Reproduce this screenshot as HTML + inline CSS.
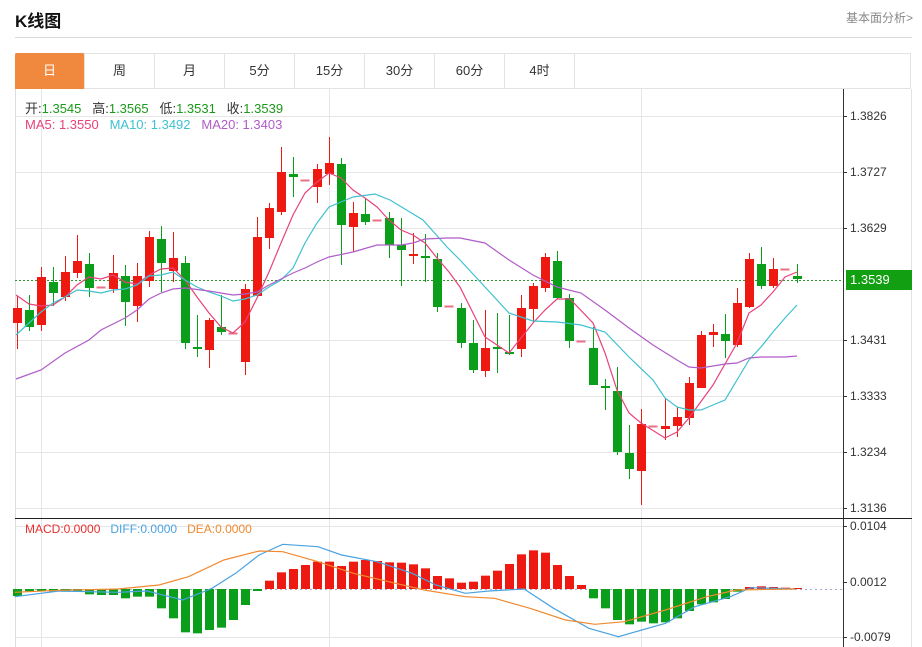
<!DOCTYPE html>
<html><head><meta charset="utf-8"><style>
body{margin:0;background:#fff;font-family:"Liberation Sans","Noto Sans CJK SC",sans-serif;}
#w{position:relative;width:922px;height:647px;overflow:hidden;}
.t{position:absolute;white-space:nowrap;}
.tab{position:absolute;top:53px;height:36px;width:70px;line-height:36px;text-align:center;font-size:13px;color:#333;border-right:1px solid #e3e3e3;box-sizing:border-box;}
</style></head><body><div id="w">
<div class="t" style="left:15px;top:7px;font-size:17px;font-weight:bold;color:#111;">K线图</div>
<div class="t" style="left:846px;top:9px;font-size:12px;color:#888;">基本面分析&gt;</div>
<div style="position:absolute;left:15px;top:37px;width:897px;height:1px;background:#d8d8d8"></div>
<div style="position:absolute;left:15px;top:53px;width:896px;height:36px;border:1px solid #e3e3e3;border-bottom:1px solid #e3e3e3;box-sizing:border-box"></div>
<div class="tab" style="left:15px;background:#f0883e;color:#fff;border-radius:2px 2px 0 0">日</div>
<div class="tab" style="left:85px">周</div><div class="tab" style="left:155px">月</div><div class="tab" style="left:225px">5分</div><div class="tab" style="left:295px">15分</div><div class="tab" style="left:365px">30分</div><div class="tab" style="left:435px">60分</div><div class="tab" style="left:505px">4时</div>
<svg id="s" width="922" height="647" style="position:absolute;left:0;top:0"></svg>
<div class="t" style="left:25px;top:98px;font-size:13px;color:#333">开:<span style="color:#1a9a1a">1.3545</span>&nbsp;&nbsp; 高:<span style="color:#1a9a1a">1.3565</span>&nbsp;&nbsp; 低:<span style="color:#1a9a1a">1.3531</span>&nbsp;&nbsp; 收:<span style="color:#1a9a1a">1.3539</span></div>
<div class="t" style="left:25px;top:117px;font-size:13px;"><span style="color:#e8427a">MA5: 1.3550</span>&nbsp;&nbsp; <span style="color:#3fc1d0">MA10: 1.3492</span>&nbsp;&nbsp; <span style="color:#b05cc8">MA20: 1.3403</span></div>
<div class="t" style="left:25px;top:522px;font-size:12px;"><span style="color:#e83030">MACD:0.0000</span>&nbsp;&nbsp; <span style="color:#4aa3e0">DIFF:0.0000</span>&nbsp;&nbsp; <span style="color:#f08a30">DEA:0.0000</span></div>
<div class="t" style="left:846px;top:270px;width:66px;height:20px;background:#12a012;color:#fff;font-size:13px;line-height:20px;padding-left:4px;box-sizing:border-box">1.3539</div>
</div>
<script>
var s='';
function L(x1,y1,x2,y2,c,w,d){s+='<line x1="'+x1+'" y1="'+y1+'" x2="'+x2+'" y2="'+y2+'" stroke="'+c+'" stroke-width="'+(w||1)+'"'+(d?' stroke-dasharray="'+d+'"':'')+'/>';}
// grid
[116,172,228,340,396,452,508].forEach(function(y){L(15,y+.5,843,y+.5,'#e6e6e6');});
[41,329,641].forEach(function(x){L(x+.5,89,x+.5,647,'#e6e6e6');});
L(15.5,89,15.5,647,'#ddd');L(911.5,89,911.5,647,'#e3e3e3');
L(15,637.5,843,637.5,'#e6e6e6');L(15,526.5,843,526.5,'#e6e6e6');
L(843.5,89,843.5,647,'#333');L(15,518.5,912,518.5,'#222');
var labs=[[116,'1.3826'],[172,'1.3727'],[228,'1.3629'],[340,'1.3431'],[396,'1.3333'],[452,'1.3234'],[508,'1.3136'],[526,'0.0104'],[582,'0.0012'],[637,'-0.0079']];
labs.forEach(function(a){L(843,a[0]+.5,847,a[0]+.5,'#333');s+='<text x="850" y="'+(a[0]+4)+'" font-size="12" fill="#333" font-family="Liberation Sans,sans-serif">'+a[1]+'</text>';});
L(15,280.5,843,280.5,'#2a9a2a',1,'2,2');
L(15,589.5,843,589.5,'#aac',1,'2,3');
var C=[[296,308,323,349,'r'],[295,310,327,331,'g'],[267,277,325,331,'r'],[267,282,293,306,'g'],[256,272,297,301,'r'],[235,261,273,278,'r'],[253,264,288,297,'g'],[287,287,288,287,'p'],[255,273,289,293,'r'],[265,276,302,326,'g'],[263,276,306,322,'r'],[231,237,281,287,'r'],[226,239,263,292,'g'],[232,258,271,282,'r'],[256,263,343,349,'g'],[315,347,349,357,'g'],[318,320,350,368,'r'],[295,327,332,335,'g'],[333,333,334,333,'p'],[284,289,362,375,'r'],[217,237,296,297,'r'],[203,208,238,249,'r'],[147,172,212,215,'r'],[157,174,177,197,'g'],[180,180,181,180,'p'],[164,169,187,203,'r'],[137,163,174,185,'r'],[158,164,225,265,'g'],[202,213,227,252,'r'],[199,214,222,225,'g'],[220,220,221,220,'p'],[212,218,245,258,'g'],[218,245,250,286,'g'],[233,254,256,264,'r'],[234,256,258,282,'g'],[253,259,307,312,'g'],[306,306,307,306,'p'],[303,308,343,348,'g'],[320,343,370,373,'g'],[310,348,371,377,'r'],[313,347,349,373,'g'],[315,352,354,355,'g'],[295,308,349,357,'r'],[283,286,309,322,'r'],[253,257,288,292,'r'],[251,261,298,299,'g'],[294,298,341,348,'g'],[341,341,342,341,'p'],[327,348,385,385,'g'],[379,386,388,410,'g'],[367,391,452,455,'g'],[425,453,469,479,'g'],[409,424,471,505,'r'],[426,426,427,426,'p'],[398,426,429,440,'r'],[407,417,426,437,'r'],[377,383,418,425,'r'],[331,335,388,388,'r'],[324,332,335,347,'r'],[314,334,341,358,'g'],[288,303,345,347,'r'],[253,259,307,308,'r'],[247,264,286,289,'g'],[258,269,286,288,'r'],[269,269,270,269,'p'],[264,276,279,283,'g']];
var RED='#ee1a12',GRN='#0a9e1a';
C.forEach(function(c,i){var x=17+12*i;var col=c[4]=='r'?RED:c[4]=='g'?GRN:'#e8708a';
 if(c[4]=='p'){L(x-4.5,c[1]+.5,x+4.5,c[1]+.5,col,2);return;}
 L(x+.5,c[0],x+.5,c[3],col,1);
 s+='<rect x="'+(x-4)+'" y="'+c[1]+'" width="9" height="'+Math.max(2,c[2]-c[1])+'" fill="'+col+'"/>';});
function P(pts,c){s+='<polyline fill="none" stroke="'+c+'" stroke-width="1.2" points="'+pts+'"/>';}
P('16,295 29,304 41,306 53,305 65,297 77,285 89,277 101,279 113,275 125,282 137,284 149,275 161,269 173,268 185,280 197,297 209,313 221,327 233,333 245,322 257,298 269,272 281,243 293,215 305,193 317,182 329,173 341,178 353,190 365,198 377,207 389,220 401,230 413,235 425,243 437,258 449,272 460,287 485,337 509,353 533,323 545,310 557,299 570,299 593,323 605,353 617,390 629,413 641,423 665,438 677,432 689,418 713,385 737,343 749,313 761,305 773,292 785,277 797,272','#e8427a');
P('16,335 29,323 41,312 53,303 65,297 77,290 89,291 101,293 113,290 125,289 137,285 149,276 161,275 173,272 185,280 197,287 209,292 221,296 233,301 245,299 257,295 269,287 281,280 293,268 305,243 317,223 329,207 341,202 353,197 375,194 390,200 423,220 447,247 460,260 485,287 509,313 533,321 557,322 581,325 605,332 629,357 653,380 665,398 677,407 689,410 701,410 713,405 725,400 737,380 749,360 761,347 773,332 785,318 797,305','#3fc1d0');
P('16,379 41,370 65,353 89,340 101,330 125,318 137,310 149,299 161,293 173,289 185,288 209,291 233,295 245,294 257,292 269,285 281,279 293,273 305,268 317,262 329,257 353,252 377,245 401,245 413,243 425,239 447,238 460,238 485,243 509,260 533,275 557,287 581,293 605,310 629,328 653,345 677,360 689,367 701,368 725,364 737,363 749,358 761,357 785,357 797,356','#b05cc8');
// MACD bars
var M=[243,229,229,229,230,230,238,240,240,250,245,245,280,310,352,355,345,338,315,270,228,197,172,162,150,140,140,153,140,135,138,142,143,148,160,183,190,203,200,182,167,147,118,106,113,150,183,210,250,280,315,328,320,325,322,310,288,268,262,252,230,216,214,216,218,219];
M.forEach(function(v,i){var x=17+12*i;var y=515+v/3;var z=589;var col=y>z?GRN:RED;var t=Math.min(y,z),h=Math.max(1,Math.abs(y-z));
 s+='<rect x="'+(x-4)+'" y="'+t+'" width="9" height="'+h+'" fill="'+col+'"/>';});
function Z(a){return a.map(function(p){return (p[0]/1.698).toFixed(1)+','+(515+p[1]/3).toFixed(1);}).join(' ');}
P(Z([[25,245],[100,228],[200,232],[250,228],[310,255],[360,220],[400,175],[440,120],[480,88],[540,95],[580,120],[640,140],[700,175],[740,210],[790,235],[830,228],[890,222],[940,280],[1000,340],[1050,365],[1090,345],[1130,325],[1180,275],[1240,245],[1275,218],[1350,222]]),'#4aa3e0');
P(Z([[25,232],[100,226],[200,222],[270,210],[320,185],[380,135],[440,108],[480,110],[540,140],[600,175],[660,200],[720,225],[790,245],[840,250],[900,280],[960,315],[1010,328],[1060,320],[1130,285],[1200,245],[1250,225],[1350,222]]),'#f08a30');
document.getElementById('s').innerHTML=s;
</script>
</body></html>
